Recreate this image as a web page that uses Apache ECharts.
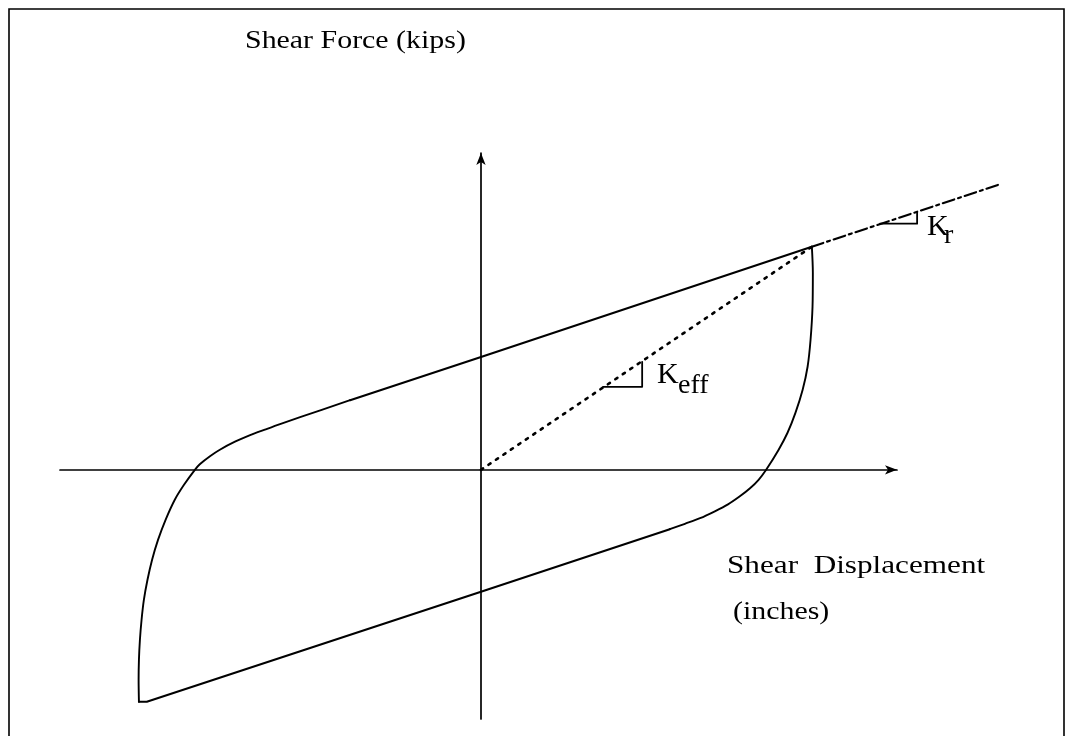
<!DOCTYPE html>
<html>
<head>
<meta charset="utf-8">
<script src="https://cdn.jsdelivr.net/npm/echarts@6/dist/echarts.min.js"></script>
<style>
  html, body { margin: 0; padding: 0; background: #fff; }
  #myChart { width: 1067px; height: 736px; }
</style>
</head>
<body>
<div id="myChart"></div>
<script>
// hysteresis loop (displacement / force, peak = 10)
// left curved part: bottom-left corner up until it joins the upper straight line
var leftDisp  = [-10.40, -10.41, -10.40, -10.37, -10.32, -10.25, -10.14, -10.00, -9.82, -9.59, -9.31, -9.03, -8.70,
                 -8.55, -8.24, -7.94, -7.48, -7.02, -6.57, -6.11, -5.50, -3.98];
var leftForce = [-10.40, -9.41, -8.52, -7.62, -6.72, -5.83, -4.93, -4.03, -3.14, -2.24, -1.34, -0.67, 0,
                 0.25, 0.61, 0.90, 1.26, 1.55, 1.80, 2.05, 2.36, 3.12];
// upper straight loading line up to the peak
var upperDisp  = [-3.98, 0, 10.06];
var upperForce = [3.12, 5.06, 10.00];
// right curved part: unloading from the peak until it joins the lower straight line
var rightDisp  = [10.06, 10.09, 10.08, 10.02, 9.93, 9.78, 9.56, 9.32, 9.05, 8.67,
                  8.44, 8.18, 7.87, 7.51, 7.11, 6.66, 6.20, 5.74];
var rightForce = [10.00, 8.83, 7.31, 5.83, 4.62, 3.59, 2.55, 1.66, 0.90, 0,
                  -0.45, -0.83, -1.19, -1.55, -1.86, -2.17, -2.42, -2.66];
// lower straight line back to the bottom-left corner
var lowerDisp  = [5.74, 0, -10.16, -10.40];
var lowerForce = [-2.66, -5.47, -10.40, -10.40];

// effective stiffness secant (dotted) and its slope mark
var keffDisp  = [0, 10.06];
var keffForce = [0, 10.00];
var keffTriDisp  = [3.71, 4.90, 4.90];
var keffTriForce = [3.72, 3.72, 4.84];

// post-yield stiffness extension (dash-dot) and its slope mark
var krDisp  = [10.06, 15.72];
var krForce = [10.00, 12.77];
var krTriDisp  = [12.13, 13.26, 13.26];
var krTriForce = [11.03, 11.03, 11.56];

function pairs(xs, ys){
    var out = [];
    for(var i=0; i<xs.length; i++){
        out.push([xs[i], ys[i]]);
    }
    return out;
}

var myChart = echarts.init(document.getElementById('myChart'));

var serif = '"Liberation Serif", "Times New Roman", serif';
var hidden = {
    axisLine: { show: false }, axisTick: { show: false },
    axisLabel: { show: false }, splitLine: { show: false }
};
var arrowLine = {
    show: true, onZero: true,
    symbol: ['none', 'arrow'], symbolSize: [7, 12],
    lineStyle: { color: '#000', width: 1.7 }
};

function curve(name, xs, ys, width, type, smooth){
    return {
        name: name, type: 'line', data: pairs(xs, ys),
        xAxisIndex: 1, yAxisIndex: 1,
        showSymbol: false, silent: true, smooth: smooth || false,
        lineStyle: { color: '#000', width: width, type: type || 'solid', cap: 'round', join: 'round' }
    };
}

var option = {
    animation: false,
    backgroundColor: '#fff',
    // grid 0 only carries the two arrowed axes, grid 1 (same scale, wider) carries the curves
    grid: [
        { left: 60, right: 170, top: 153, bottom: 17 },
        { left: 60, right: 67, top: 153, bottom: 17 }
    ],
    xAxis: [
        { type: 'value', gridIndex: 0, min: -12.8, max: 12.65, axisLine: arrowLine,
          axisTick: { show: false }, axisLabel: { show: false }, splitLine: { show: false } },
        Object.assign({ type: 'value', gridIndex: 1, min: -12.8, max: 15.78 }, hidden)
    ],
    yAxis: [
        { type: 'value', gridIndex: 0, min: -11.17, max: 14.2, axisLine: arrowLine,
          axisTick: { show: false }, axisLabel: { show: false }, splitLine: { show: false } },
        Object.assign({ type: 'value', gridIndex: 1, min: -11.17, max: 14.2 }, hidden)
    ],
    series: [
        curve('left curve', leftDisp, leftForce, 1.9, 'solid', 0.3),
        curve('upper line', upperDisp, upperForce, 2.1),
        curve('right curve', rightDisp, rightForce, 1.9, 'solid', 0.3),
        curve('lower line', lowerDisp, lowerForce, 2.1),
        curve('Keff', keffDisp, keffForce, 2.6, [2.5, 6.5]),
        curve('Keff mark', keffTriDisp, keffTriForce, 1.8),
        curve('Kr', krDisp, krForce, 2.2, [12, 4, 3, 4]),
        curve('Kr mark', krTriDisp, krTriForce, 1.8)
    ],
    graphic: [
        { type: 'rect', silent: true, shape: { x: 9, y: 9, width: 1055, height: 800 },
          style: { fill: 'none', stroke: '#000', lineWidth: 1.6 } },
        { type: 'text', x: 245, y: 41, scaleX: 1.15,
          style: { text: 'Shear Force (kips)', font: '26px ' + serif, fill: '#000', textVerticalAlign: 'middle' } },
        { type: 'text', x: 727, y: 566, scaleX: 1.2,
          style: { text: 'Shear  Displacement', font: '26px ' + serif, fill: '#000', textVerticalAlign: 'middle' } },
        { type: 'text', x: 733, y: 612, scaleX: 1.15,
          style: { text: '(inches)', font: '26px ' + serif, fill: '#000', textVerticalAlign: 'middle' } },
        { type: 'text', x: 657, y: 375,
          style: { text: 'K', font: '30px ' + serif, fill: '#000', textVerticalAlign: 'middle' } },
        { type: 'text', x: 678, y: 386,
          style: { text: 'eff', font: '28px ' + serif, fill: '#000', textVerticalAlign: 'middle' } },
        { type: 'text', x: 927, y: 227,
          style: { text: 'K', font: '30px ' + serif, fill: '#000', textVerticalAlign: 'middle' } },
        { type: 'text', x: 944, y: 236,
          style: { text: 'r', font: '28px ' + serif, fill: '#000', textVerticalAlign: 'middle' } }
    ]
};

myChart.setOption(option);
</script>
</body>
</html>
